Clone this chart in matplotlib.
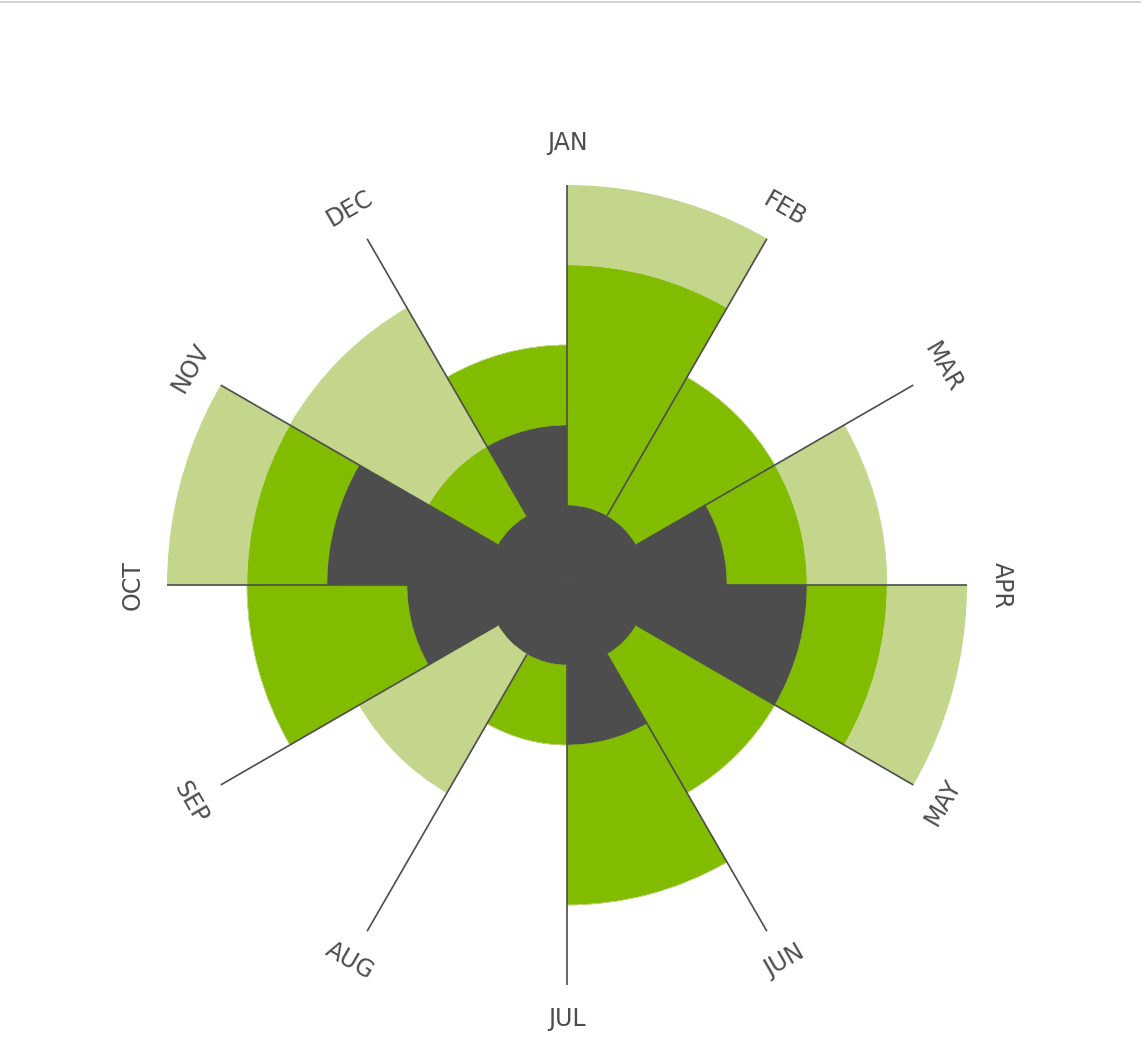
import numpy as np
import matplotlib
matplotlib.use('Agg')
import matplotlib.pyplot as plt
from matplotlib.lines import Line2D

months = ['JAN', 'FEB', 'MAR', 'APR', 'MAY', 'JUN',
          'JUL', 'AUG', 'SEP', 'OCT', 'NOV', 'DEC']
dark = [1, 1, 2, 3, 1, 2, 1, 1, 2, 3, 1, 2]
green = [3, 2, 1, 1, 2, 2, 1, 0, 2, 1, 1, 1]
light = [1, 0, 1, 1, 0, 0, 0, 2, 0, 1, 2, 0]

c_dark = '#4d4d4d'
c_green = '#82bc00'
c_light = '#c3d68c'
c_text = '#4d4d4d'

W, H = 1141, 1043
fig = plt.figure(figsize=(W / 100, H / 100), dpi=100)
cx, cy, R = 567, 585, 400
ax = fig.add_axes([(cx - R) / W, (H - cy - R) / H, 2 * R / W, 2 * R / H],
                  projection='polar')
ax.set_theta_zero_location('N')
ax.set_theta_direction(-1)
ax.set_ylim(0, 5)
ax.axis('off')

n = len(months)
theta = np.deg2rad(np.arange(n) * 360 / n)
width = 2 * np.pi / n
dark = np.array(dark)
green = np.array(green)
light = np.array(light)

ax.bar(theta, dark, width=width, bottom=0, align='edge',
       color=c_dark, edgecolor=c_dark, linewidth=0.6)
ax.bar(theta, green, width=width, bottom=dark, align='edge',
       color=c_green, edgecolor=c_green, linewidth=0.3)
ax.bar(theta, light, width=width, bottom=dark + green, align='edge',
       color=c_light, edgecolor=c_light, linewidth=0.3)

# spokes
for t in theta:
    ax.plot([t, t], [1, 5], color=c_text, lw=1.2, solid_capstyle='butt', zorder=5)

# month labels, tangential and kept upright
for i, (t, m) in enumerate(zip(theta, months)):
    deg = ((-i * 360 / n + 180) % 360) - 180
    if deg < -90:
        deg += 180
    elif deg > 90:
        deg -= 180
    r = 5.52 if i == 0 else 5.43
    ax.text(t, r, m, rotation=deg, rotation_mode='anchor', ha='center', va='center',
            fontsize=17, family=['DejaVu Sans'], color=c_text)

# thin border line at the top
fig.add_artist(Line2D([0, 1], [1 - 2 / H, 1 - 2 / H], color='#d4d4d4', lw=1.5))

fig.savefig('out.png', dpi=100)
